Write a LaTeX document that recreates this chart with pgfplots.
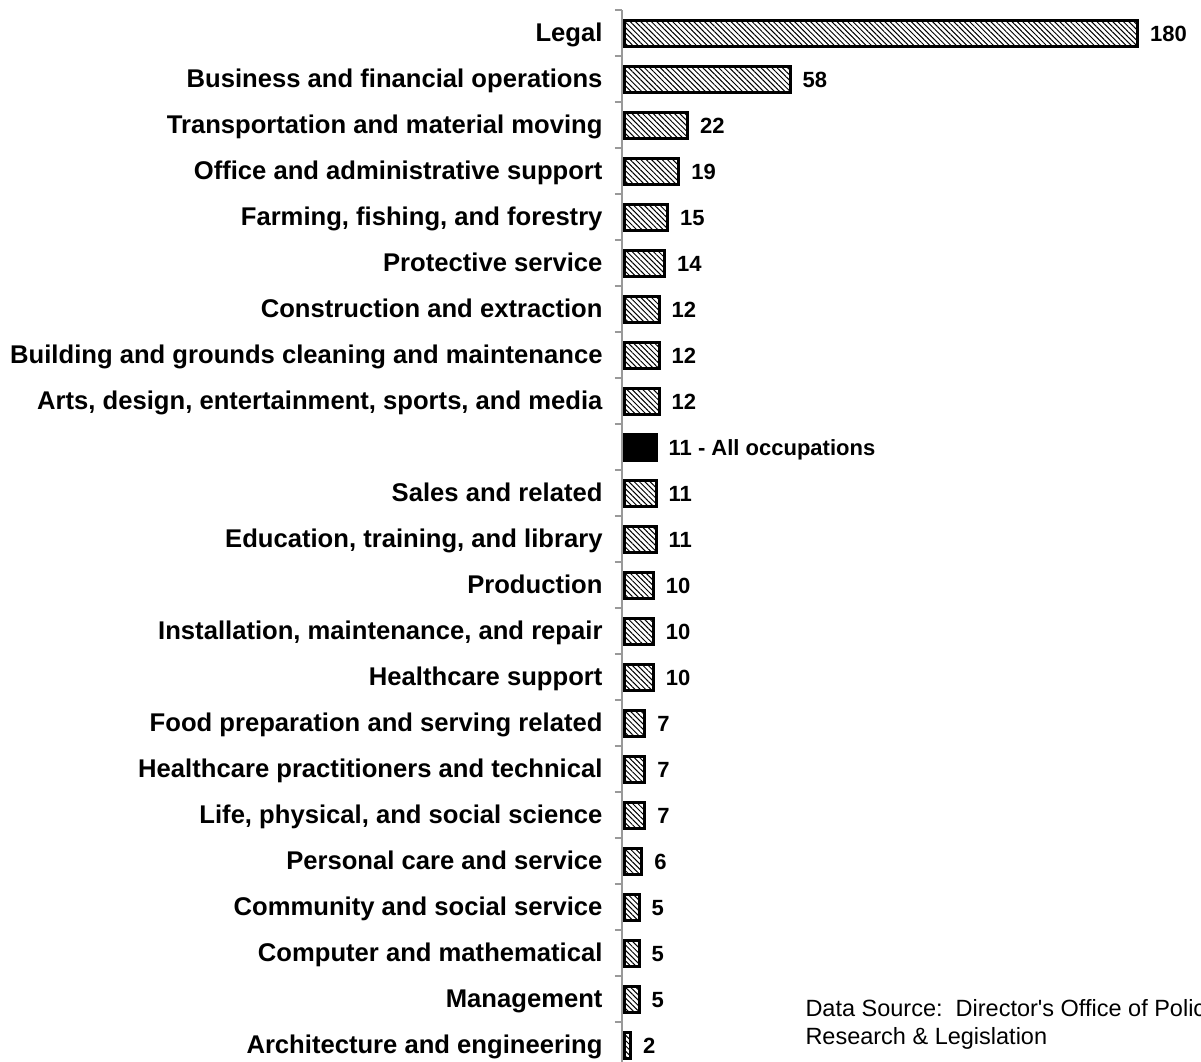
\documentclass[border=0pt]{standalone}
\usepackage{fontspec}
\setmainfont{Liberation Sans}
\usepackage{pgfplots}
\pgfplotsset{compat=1.18}
\usetikzlibrary{patterns.meta}

\begin{document}
\begin{tikzpicture}
% 1 px of the reference = 0.4pt
\begin{axis}[
  anchor=north west,
  at={(248.8pt,-4pt)},
  width=231.6pt,
  height=423.2pt,
  scale only axis,
  xbar,
  bar width=10.4pt,
  bar shift=0pt,
  y dir=reverse,
  xmin=-1, xmax=202.2,
  ymin=-0.5, ymax=22.5,
  axis x line=none,
  axis y line*=left,
  axis line style={draw=gray!80, line width=0.5pt},
  ytick={0,...,22},
  major tick length=0pt,
  minor ytick={-0.5,0.5,...,22.5},
  minor tick length=2.8pt,
  tick align=outside,
  minor tick style={draw=gray!80, line width=0.5pt},
  yticklabels={Legal, Business and financial operations, Transportation and material moving,
    Office and administrative support, {Farming, fishing, and forestry}, Protective service,
    Construction and extraction, Building and grounds cleaning and maintenance,
    {Arts, design, entertainment, sports, and media}, {}, Sales and related,
    {Education, training, and library}, Production, {Installation, maintenance, and repair},
    Healthcare support, Food preparation and serving related, Healthcare practitioners and technical,
    {Life, physical, and social science}, Personal care and service, Community and social service,
    Computer and mathematical, Management, Architecture and engineering},
  yticklabel style={anchor=east, inner sep=0pt, xshift=-7.6pt, text height=0.9em, text depth=0.184em,
    font=\fontsize{10.25}{12}\selectfont\bfseries},
  point meta=explicit symbolic,
  nodes near coords,
  nodes near coords style={anchor=west, inner sep=0pt, xshift=4.4pt, text height=0.9em, text depth=0.184em,
    font=\fontsize{8.8}{10}\selectfont\bfseries},
  clip=false,
]
\addplot[draw=black, line width=1.2pt, pattern={Lines[angle=-45, distance=1.5pt, line width=0.4pt]}]
coordinates {
(180,0) [180]
(58,1) [58]
(22,2) [22]
(19,3) [19]
(15,4) [15]
(14,5) [14]
(12,6) [12]
(12,7) [12]
(12,8) [12]
(11,10) [11]
(11,11) [11]
(10,12) [10]
(10,13) [10]
(10,14) [10]
(7,15) [7]
(7,16) [7]
(7,17) [7]
(6,18) [6]
(5,19) [5]
(5,20) [5]
(5,21) [5]
(2,22) [2]
};
\addplot[draw=black, line width=1.2pt, fill=black]
coordinates {
(11,9) [11 - All occupations]
};
\end{axis}
\node[anchor=base west, inner sep=0pt, align=left, font=\fontsize{9.4}{11.4}\selectfont]
  at (322pt,-418pt) {Data Source:\ \ Director\textquotesingle s Office of Policy\\Research \& Legislation};
\pgfresetboundingbox
\useasboundingbox (0,0) rectangle (480.4pt,-424.8pt);
\end{tikzpicture}
\end{document}
